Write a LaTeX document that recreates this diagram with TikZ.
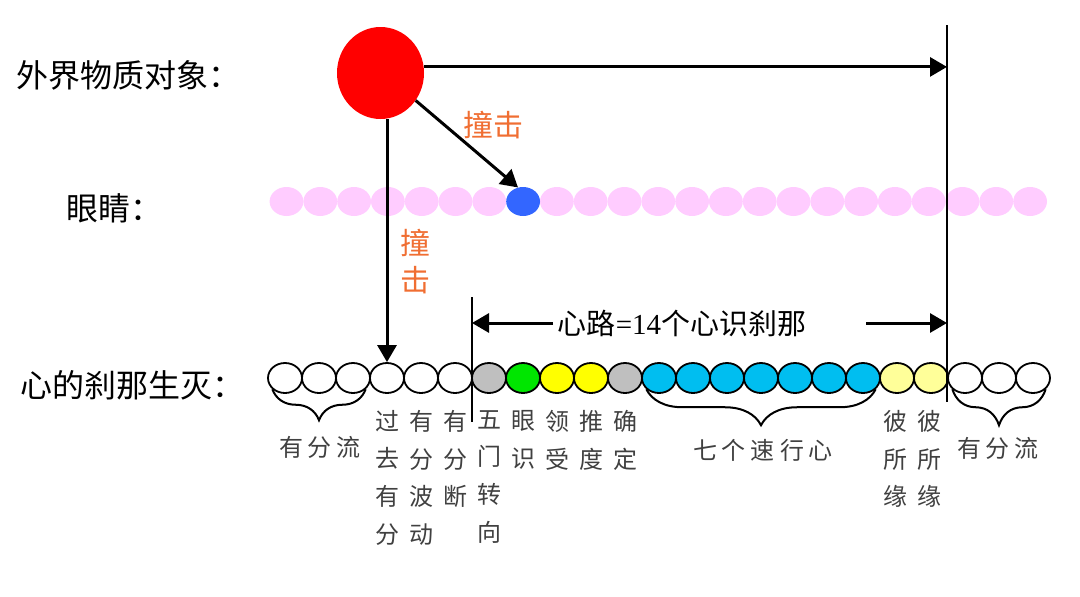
\documentclass[tikz,border=0pt]{standalone}
\usepackage{fontspec}
\setmainfont{Liberation Serif}
\newfontfamily\cjk{Noto Sans CJK SC}
\usetikzlibrary{arrows.meta,decorations.pathreplacing,shapes.geometric}
\definecolor{objred}{RGB}{255,0,0}
\definecolor{eyepink}{RGB}{255,204,255}
\definecolor{eyeblue}{RGB}{51,102,255}
\definecolor{hitorange}{RGB}{240,110,50}
\definecolor{bgray}{RGB}{191,191,191}
\definecolor{bgreen}{RGB}{0,230,0}
\definecolor{byellow}{RGB}{255,255,0}
\definecolor{bblue}{RGB}{0,190,240}
\definecolor{blyellow}{RGB}{255,255,153}
\definecolor{labgray}{RGB}{64,64,64}
\begin{document}
\begin{tikzpicture}[x=1pt,y=-1pt,
  bead/.style={ellipse,draw=black,line width=1.8pt,minimum width=34pt,minimum height=30pt,inner sep=0pt},
  eyebead/.style={ellipse,minimum width=33.8pt,minimum height=29pt,inner sep=0pt},
  arr/.style={line width=3pt,-{Triangle[length=17pt,width=19pt]}},
  sepline/.style={line width=2.5pt},
  lab/.style={font=\cjk\fontsize{24}{37.7}\selectfont,text=labgray,align=center,inner sep=0pt,anchor=north},
  hlab/.style={font=\cjk\fontsize{24}{30}\selectfont,text=labgray,inner sep=0pt},
  big/.style={font=\cjk\fontsize{32}{36}\selectfont,inner sep=0pt,anchor=west},
  hit/.style={font=\cjk\fontsize{30}{37}\selectfont,text=hitorange,inner sep=0pt,align=center},
  brc/.style={decorate,decoration={brace,mirror,amplitude=#1},line width=2pt}]
\useasboundingbox (0,0) rectangle (1080,597);

% labels on the left
\node[big] (l1) at (16,75) {外界物质对象：};
\node[big] (l2) at (66,208) {眼睛：};
\node[big] (l3) at (20,385) {心的刹那生灭：};

% object
\node[ellipse,fill=objred,minimum width=87pt,minimum height=92pt,inner sep=0pt] (obj) at (380.5,73) {};

% eye row
\foreach \i in {0,...,6,8,9,...,22}
  \node[eyebead,fill=eyepink] (e\i) at ({286.5+33.8*\i},201.5) {};
\node[eyebead,fill=eyeblue] (e7) at ({286.5+33.8*7},201.5) {};

% mind moments
\foreach \i/\c in {0/white,1/white,2/white,3/white,4/white,5/white,6/bgray,7/bgreen,8/byellow,9/byellow,10/bgray,11/bblue,12/bblue,13/bblue,14/bblue,15/bblue,16/bblue,17/bblue,18/blyellow,19/blyellow,20/white,21/white,22/white}
  \node[bead,fill=\c] (c\i) at ({285+34*\i},378) {};

% separator lines
\coordinate (Rt) at (947,25);
\coordinate (Rb) at (947,402);
\coordinate (Lt) at (472,297);
\coordinate (Lb) at (472,422);
\draw[sepline] (Rt) -- (Rb);
\draw[sepline] (Lt) -- (Lb);

% arrows
\draw[arr] (obj.8) -- (obj.8 -| Rt);
\draw[arr] (c3.north |- obj.south) -- (c3.north);
\draw[arr] (obj.-38) -- (e7.110);

% hit labels
\node[hit] (h1) at (493,125) {撞击};
\node[hit] (h2) at (415,262) {撞\\击};

% path length
\node[font=\fontsize{29}{32}\selectfont,inner sep=0pt] (mid) at (682,323) {{\cjk 心路}=14{\cjk 个心识刹那}};
\coordinate (la) at (553,323);
\coordinate (ra) at (866,323);
\draw[arr] (la) -- (la -| Lt);
\draw[arr] (ra) -- (ra -| Rt);

% braces
\draw[brc=31pt] (c0.south west) -- (c2.south east);
\draw[brc=36pt] (c11.south west) -- (c17.south east);
\draw[brc=36pt] (c20.south west) -- (c22.south east);

% bottom labels
\node[hlab] (b1) at (320,447) {有\hspace{5pt}分\hspace{5pt}流};
\node[hlab] (b2) at (763,450) {七\hspace{5pt}个\hspace{5pt}速\hspace{5pt}行\hspace{5pt}心};
\node[hlab] (b3) at (998,448) {有\hspace{5pt}分\hspace{5pt}流};

\node[lab] (v3) at (387,410) {过\\去\\有\\分};
\node[lab] (v4) at (421,410) {有\\分\\波\\动};
\node[lab] (v5) at (455,410) {有\\分\\断};
\node[lab] (v6) at (489,410) {五\\门\\转\\向};
\node[lab] (v7) at (523,410) {眼\\识};
\node[lab] (v8) at (557,410) {领\\受};
\node[lab] (v9) at (591,410) {推\\度};
\node[lab] (v10) at (625,410) {确\\定};
\node[lab] (v18) at (895,410) {彼\\所\\缘};
\node[lab] (v19) at (929,410) {彼\\所\\缘};
\end{tikzpicture}
\end{document}
